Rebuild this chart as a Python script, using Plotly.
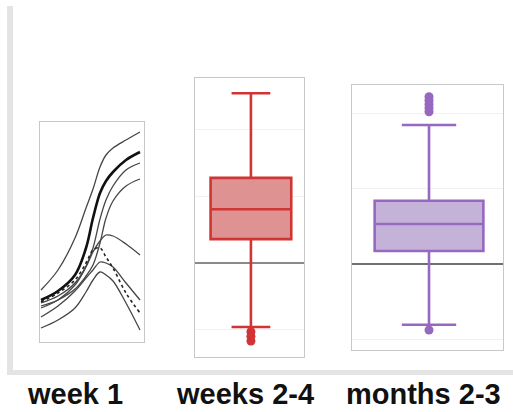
import plotly.graph_objects as go

W, H = 513, 412

# ---- week 1 spaghetti data (arbitrary units) ----
t = [1, 18, 35, 46, 53, 60, 66, 73, 86, 100]
line_a = [52, 72, 104, 134, 153, 175, 187, 194, 202, 210]
line_b = [42, 51, 67, 94, 124, 149, 161, 170, 182, 190]
line_c = [39, 46, 59, 76, 94, 123, 142, 156, 172, 179]
line_d = [36, 42, 53, 66, 77, 99, 124, 141, 156, 163]
line_e = [34, 42, 57, 75, 90, 101, 107, 106, 98, 87]
line_f = [40, 49, 62, 79, 92, 94, 85, 74, 49, 29]
line_g = [25, 36, 51, 64, 72, 80, 79, 75, 59, 42]
line_h = [14, 22, 34, 50, 62, 70, 67, 61, 39, 12]

# ---- weeks 2-4 box stats ----
wk_q1, wk_med, wk_q3 = 0.36, 0.81, 1.28
wk_lo, wk_hi = -0.96, 2.55
wk_out = [-1.03, -1.10, -1.17]

# ---- months 2-3 box stats ----
mo_q1, mo_med, mo_q3 = 0.176, 0.534, 0.842
mo_lo, mo_hi = -0.80, 1.845
mo_out = [-0.87, 2.02, 2.07, 2.12, 2.17, 2.22]

labels = ["week 1", "weeks 2-4", "months 2-3"]


def px_x(a, b):
    return [a / W, b / W]


def px_y(top, bot):
    return [(H - bot) / H, (H - top) / H]


fig = go.Figure()

thin = dict(color="#454545", width=1.3, shape="spline", smoothing=1.0)
for ys in [line_a, line_c, line_d, line_e, line_g, line_h]:
    fig.add_trace(go.Scatter(x=t, y=ys, mode="lines", line=thin,
                             xaxis="x", yaxis="y", showlegend=False, hoverinfo="skip"))
fig.add_trace(go.Scatter(x=t, y=line_b, mode="lines",
                         line=dict(color="#111", width=2.6, shape="spline"),
                         xaxis="x", yaxis="y", showlegend=False))
fig.add_trace(go.Scatter(x=t, y=line_f, mode="lines",
                         line=dict(color="#222", width=1.6, dash="dot", shape="spline"),
                         xaxis="x", yaxis="y", showlegend=False))

red = "rgb(208,52,52)"
fig.add_trace(go.Box(x=[0.013], q1=[wk_q1], median=[wk_med], q3=[wk_q3],
                     lowerfence=[wk_lo], upperfence=[wk_hi], width=0.74,
                     whiskerwidth=0.48, boxpoints=False,
                     line=dict(color=red, width=2.6), fillcolor="rgb(223,146,146)",
                     xaxis="x2", yaxis="y2", showlegend=False))
fig.add_trace(go.Scatter(x=[0.013] * len(wk_out), y=wk_out, mode="markers",
                         marker=dict(color=red, size=9), xaxis="x2", yaxis="y2",
                         showlegend=False))

purple = "rgb(150,104,192)"
fig.add_trace(go.Box(x=[0.01], q1=[mo_q1], median=[mo_med], q3=[mo_q3],
                     lowerfence=[mo_lo], upperfence=[mo_hi], width=0.72,
                     whiskerwidth=0.5, boxpoints=False,
                     line=dict(color=purple, width=2.6), fillcolor="rgb(197,178,216)",
                     xaxis="x3", yaxis="y3", showlegend=False))
fig.add_trace(go.Scatter(x=[0.01] * len(mo_out), y=mo_out, mode="markers",
                         marker=dict(color=purple, size=9), xaxis="x3", yaxis="y3",
                         showlegend=False))

frame = dict(showline=True, mirror=True, linecolor="#c8c8c8", linewidth=1,
             showticklabels=False, ticks="")

fig.update_layout(
    width=W, height=H, margin=dict(l=0, r=0, t=0, b=0),
    paper_bgcolor="white", plot_bgcolor="white",
    xaxis=dict(domain=px_x(40, 144), range=[0, 104], showgrid=False, zeroline=False, **frame),
    yaxis=dict(domain=px_y(122, 342), range=[0, 220], showgrid=False, zeroline=False,
               anchor="x", **frame),
    xaxis2=dict(domain=px_x(195, 304), range=[-0.5, 0.5], showgrid=False, zeroline=False,
                anchor="y2", **frame),
    yaxis2=dict(domain=px_y(78, 357), range=[-1.41, 2.78], showgrid=True, gridcolor="#f1f1f1",
                dtick=1, anchor="x2", zeroline=True, zerolinecolor="#8a8a8a",
                zerolinewidth=1.6, **frame),
    xaxis3=dict(domain=px_x(352, 503), range=[-0.5, 0.5], showgrid=False, zeroline=False,
                anchor="y3", **frame),
    yaxis3=dict(domain=px_y(85, 350), range=[-1.135, 2.375], showgrid=True, gridcolor="#f1f1f1",
                dtick=1, anchor="x3", zeroline=True, zerolinecolor="#707070",
                zerolinewidth=1.6, **frame),
    shapes=[
        dict(type="rect", xref="paper", yref="paper", x0=7 / W, x1=13 / W,
             y0=(H - 375) / H, y1=(H - 6) / H, fillcolor="#e4e4e4", line=dict(width=0),
             layer="below"),
        dict(type="rect", xref="paper", yref="paper", x0=7 / W, x1=1,
             y0=(H - 375) / H, y1=(H - 370) / H, fillcolor="#e4e4e4", line=dict(width=0),
             layer="below"),
    ],
)

for lab, cx in zip(labels, [75, 245, 423]):
    fig.add_annotation(x=cx / W, y=(H - 394) / H, xref="paper", yref="paper",
                       text=lab, showarrow=False, xanchor="center", yanchor="middle",
                       font=dict(family="Liberation Sans, Arial", size=29, color="#111",
                                 weight="bold"))

fig.write_html("out.html", config={"displayModeBar": False},
               post_script="document.body.style.margin='0';document.body.style.padding='0';")
